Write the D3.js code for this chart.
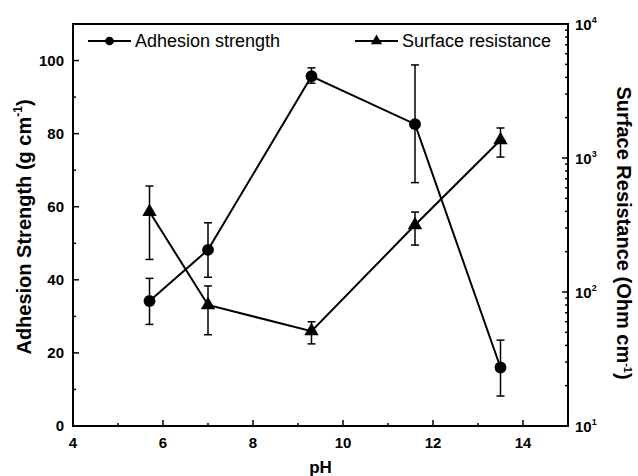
<!DOCTYPE html>
<html>
<head>
<meta charset="utf-8">
<script src="https://cdn.jsdelivr.net/npm/d3@7"></script>
<style>
  body { margin: 0; background: #fff; }
  svg text { font-family: "Liberation Sans", Arial, sans-serif; }
</style>
</head>
<body>
<div id="chart"></div>
<script>
// pH values shared by both series
const phValues = [5.7, 7.0, 9.3, 11.6, 13.5];

// Adhesion strength (g cm^-1), left axis, with error bar limits
const adhesion = [34.2, 48.2, 95.7, 82.6, 16.0];
const adhesionLow = [27.8, 40.7, 93.8, 66.6, 8.2];
const adhesionHigh = [40.4, 55.6, 98.0, 98.8, 23.5];

// Surface resistance (Ohm cm^-1), right log axis, with error bar limits
const resistance = [397, 80, 51, 316, 1361];
const resistanceLow = [175, 48, 41, 224, 1016];
const resistanceHigh = [618, 111, 60, 395, 1675];

const xTicks = [4, 6, 8, 10, 12, 14];
const yTicks = [0, 20, 40, 60, 80, 100];
const rTicks = [10, 100, 1000, 10000];

const width = 638;
const height = 476;
const margin = { top: 24, right: 70, bottom: 50, left: 73 };

const svg = d3.select("#chart")
  .append("svg")
    .attr("width", width)
    .attr("height", height);

const x = d3.scaleLinear().domain([4, 15]).range([margin.left, width - margin.right]);
const y = d3.scaleLinear().domain([0, 110]).range([height - margin.bottom, margin.top]);
const yR = d3.scaleLog().domain([10, 10000]).range([height - margin.bottom, margin.top]);

const x0 = x.range()[0], x1 = x.range()[1];
const y0 = y.range()[0], y1 = y.range()[1];

// minor ticks
const minorX = d3.range(5, 15, 2);
const minorY = d3.range(10, 110, 20);
const minorR = [];
[10, 100, 1000].forEach(d => { for (let k = 2; k <= 9; k++) minorR.push(d * k); });

const tickG = svg.append("g").attr("stroke", "#000").attr("stroke-width", 1.5);

xTicks.forEach(t => tickG.append("line").attr("x1", x(t)).attr("x2", x(t)).attr("y1", y0).attr("y2", y0 - 6));
minorX.forEach(t => tickG.append("line").attr("x1", x(t)).attr("x2", x(t)).attr("y1", y0).attr("y2", y0 - 3));
yTicks.forEach(t => tickG.append("line").attr("x1", x0).attr("x2", x0 + 6).attr("y1", y(t)).attr("y2", y(t)));
minorY.forEach(t => tickG.append("line").attr("x1", x0).attr("x2", x0 + 3).attr("y1", y(t)).attr("y2", y(t)));
rTicks.forEach(t => tickG.append("line").attr("x1", x1).attr("x2", x1 - 6).attr("y1", yR(t)).attr("y2", yR(t)));
minorR.forEach(t => tickG.append("line").attr("x1", x1).attr("x2", x1 - 3).attr("y1", yR(t)).attr("y2", yR(t)));

// frame
svg.append("rect")
  .attr("x", x0).attr("y", y1)
  .attr("width", x1 - x0).attr("height", y0 - y1)
  .attr("fill", "none").attr("stroke", "#000").attr("stroke-width", 2);

// tick labels
const labelStyle = s => s.attr("font-size", 15).attr("font-weight", "bold").attr("fill", "#000");

svg.append("g").selectAll("text").data(xTicks).join("text")
  .attr("x", d => x(d)).attr("y", y0 + 22)
  .attr("text-anchor", "middle").text(d => d).call(labelStyle);

svg.append("g").selectAll("text").data(yTicks).join("text")
  .attr("x", x0 - 9).attr("y", d => y(d) + 5)
  .attr("text-anchor", "end").text(d => d).call(labelStyle);

const rLab = svg.append("g").selectAll("text").data(rTicks).join("text")
  .attr("x", x1 + 7).attr("y", d => yR(d) + 6)
  .call(labelStyle);
rLab.append("tspan").text("10");
rLab.append("tspan").attr("font-size", 9).attr("dy", -7).text(d => Math.round(Math.log10(d)));

// axis titles
svg.append("text")
  .attr("x", (x0 + x1) / 2).attr("y", height - 3)
  .attr("text-anchor", "middle").attr("font-size", 17).attr("font-weight", "bold")
  .text("pH");

const leftTitle = svg.append("text")
  .attr("transform", `translate(31,${(y0 + y1) / 2 + 2}) rotate(-90)`)
  .attr("text-anchor", "middle").attr("font-size", 20).attr("font-weight", "bold");
leftTitle.append("tspan").text("Adhesion Strength (g cm");
leftTitle.append("tspan").attr("font-size", 12).attr("dy", -9).text("-1");
leftTitle.append("tspan").attr("dy", 9).text(")");

const rightTitle = svg.append("text")
  .attr("transform", `translate(617,${(y0 + y1) / 2 + 8}) rotate(90)`)
  .attr("text-anchor", "middle").attr("font-size", 20).attr("font-weight", "bold");
rightTitle.append("tspan").text("Surface Resistance (Ohm cm");
rightTitle.append("tspan").attr("font-size", 11).attr("dy", -7).text("-1");
rightTitle.append("tspan").attr("dy", 7).text(")");

// error bars
function errorBars(low, high, scale) {
  const g = svg.append("g").attr("stroke", "#000").attr("stroke-width", 1.5);
  phValues.forEach((p, i) => {
    const cx = x(p);
    g.append("line").attr("x1", cx).attr("x2", cx).attr("y1", scale(low[i])).attr("y2", scale(high[i]));
    g.append("line").attr("x1", cx - 4).attr("x2", cx + 4).attr("y1", scale(low[i])).attr("y2", scale(low[i]));
    g.append("line").attr("x1", cx - 4).attr("x2", cx + 4).attr("y1", scale(high[i])).attr("y2", scale(high[i]));
  });
}
errorBars(adhesionLow, adhesionHigh, y);
errorBars(resistanceLow, resistanceHigh, yR);

// lines
const lineA = d3.line().x((d, i) => x(phValues[i])).y(d => y(d));
const lineR = d3.line().x((d, i) => x(phValues[i])).y(d => yR(d));

svg.append("path").datum(adhesion).attr("d", lineA)
  .attr("fill", "none").attr("stroke", "#000").attr("stroke-width", 2);
svg.append("path").datum(resistance).attr("d", lineR)
  .attr("fill", "none").attr("stroke", "#000").attr("stroke-width", 2);

// markers
const circleSym = d3.symbol().type(d3.symbolCircle).size(110);
const triSym = d3.symbol().type(d3.symbolTriangle).size(90);

svg.append("g").selectAll("path").data(adhesion).join("path")
  .attr("d", circleSym)
  .attr("transform", (d, i) => `translate(${x(phValues[i])},${y(d)})`)
  .attr("fill", "#000");

svg.append("g").selectAll("path").data(resistance).join("path")
  .attr("d", triSym)
  .attr("transform", (d, i) => `translate(${x(phValues[i])},${yR(d)})`)
  .attr("fill", "#000");

// legend
function legendItem(lx, ly, sym, label) {
  const g = svg.append("g");
  g.append("line").attr("x1", lx).attr("x2", lx + 43).attr("y1", ly).attr("y2", ly)
    .attr("stroke", "#000").attr("stroke-width", 2);
  g.append("path").attr("d", sym).attr("transform", `translate(${lx + 21.5},${ly})`).attr("fill", "#000");
  g.append("text").attr("x", lx + 47).attr("y", ly + 6)
    .attr("font-size", 18).attr("fill", "#000").text(label);
}
legendItem(88, 41, d3.symbol().type(d3.symbolCircle).size(60)(), "Adhesion strength");
legendItem(355, 41, d3.symbol().type(d3.symbolTriangle).size(55)(), "Surface resistance");
</script>
</body>
</html>
